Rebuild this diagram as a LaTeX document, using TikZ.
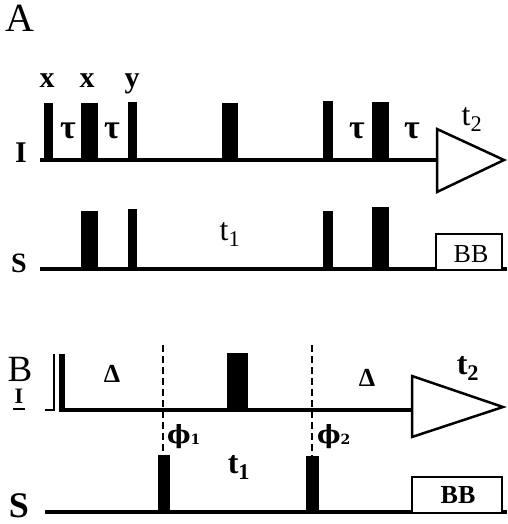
\documentclass[tikz,border=0pt]{standalone}
\usepackage{fontspec}
\setmainfont{Liberation Serif}
\newfontfamily\phifont{DejaVu Serif}
\begin{document}
\begin{tikzpicture}[x=1pt,y=-1pt,
  axis/.style={line width=4pt},
  pulse/.style={fill=black},
  outl/.style={line width=2.5pt,fill=white,line join=miter},
  dsh/.style={line width=1.5pt,dash pattern=on 7pt off 4pt},
  lbl/.style={inner sep=0pt,anchor=base}]
\useasboundingbox (0,0) rectangle (507,524);
% ---------------- Panel A ----------------
\node[lbl] (pa) at (20,32) {\fontsize{40}{42}\selectfont A};
% I channel
\node[lbl] (ia) at (21,162) {\fontsize{30}{32}\selectfont\bfseries I};
\draw[axis] (40,160) -- (437,160);
\fill[pulse] (44,103) rectangle (53,160);
\fill[pulse] (81,103) rectangle (98,160);
\fill[pulse] (128,102) rectangle (137,160);
\fill[pulse] (222,103) rectangle (238,160);
\fill[pulse] (323,101) rectangle (333,160);
\fill[pulse] (372,102) rectangle (389,160);
\draw[outl] (437,129) -- (504,160) -- (437,192) -- cycle;
\node[lbl] (xa1) at (47,88) {\fontsize{30}{32}\selectfont\bfseries x};
\node[lbl] (xa2) at (87,88) {\fontsize{30}{32}\selectfont\bfseries x};
\node[lbl] (ya) at (132,88) {\fontsize{30}{32}\selectfont\bfseries y};
\node[lbl] (ta1) at (68,138) {\fontsize{34}{36}\selectfont\bfseries τ};
\node[lbl] (ta2) at (112,138) {\fontsize{34}{36}\selectfont\bfseries τ};
\node[lbl] (ta3) at (357,138) {\fontsize{34}{36}\selectfont\bfseries τ};
\node[lbl] (ta4) at (412,138) {\fontsize{34}{36}\selectfont\bfseries τ};
\node[lbl] (t2a) at (472,125) {\fontsize{32}{34}\selectfont t$_{\mathrm{2}}$};
% S channel
\node[lbl] (sa) at (19,272) {\fontsize{28}{30}\selectfont\bfseries S};
\draw[axis] (40,269) -- (507,269);
\fill[pulse] (81,211) rectangle (98,269);
\fill[pulse] (128,209) rectangle (137,269);
\fill[pulse] (323,211) rectangle (333,269);
\fill[pulse] (372,207) rectangle (389,269);
\draw[outl] (436,269) -- (436,234) -- (502,234) -- (502,269);
\node[lbl] (bba) at (471,262) {\fontsize{26}{28}\selectfont BB};
\node[lbl] (t1a) at (230,240) {\fontsize{32}{34}\selectfont t$_{\mathrm{1}}$};
% ---------------- Panel B ----------------
\node[lbl] (pb) at (20,381) {\fontsize{37}{39}\selectfont B};
\node[lbl] (ib) at (19,403) {\fontsize{22}{24}\selectfont\bfseries I};
\draw[line width=2pt] (13,408.5) -- (25,408.5);
\draw[line width=1.6pt] (45,410) -- (54,410) -- (54,354);
\fill[pulse] (59,354) rectangle (65,412);
\draw[axis] (59,410) -- (412,410);
\fill[pulse] (227,353) rectangle (248,410);
\draw[outl] (412,376) -- (503,407) -- (412,437) -- cycle;
\node[lbl] (d1) at (112,382) {\fontsize{26}{28}\selectfont\bfseries Δ};
\node[lbl] (d2) at (367,386) {\fontsize{26}{28}\selectfont\bfseries Δ};
\node[lbl] (t2b) at (468,374) {\fontsize{32}{34}\selectfont\bfseries t$_{\mathbf{2}}$};
% S channel
\node[lbl] (sb) at (19,517) {\fontsize{36}{38}\selectfont\bfseries S};
\draw[axis] (45,512) -- (507,512);
\fill[pulse] (158,455) rectangle (170,512);
\fill[pulse] (306,456) rectangle (319,512);
\draw[outl] (412,512) -- (412,477) -- (502,477) -- (502,512);
\node[lbl] (bbb) at (458,503) {\fontsize{26}{28}\selectfont\bfseries BB};
\node[lbl] (t1b) at (239,473) {\fontsize{32}{34}\selectfont\bfseries t$_{\mathbf{1}}$};
\coordinate (p1top) at (163,345);
\coordinate (p1bot) at (163,455);
\coordinate (p2top) at (312,345);
\coordinate (p2bot) at (312,456);
\draw[dsh] (p1top) -- (p1bot);
\draw[dsh] (p2top) -- (p2bot);
\node[lbl,anchor=base west] (f1) at (167,443) {\fontsize{25}{27}\selectfont\phifont\bfseries ϕ\raisebox{-0.15ex}{\fontsize{14}{16}\selectfont 1}};
\node[lbl,anchor=base west] (f2) at (317,443) {\fontsize{25}{27}\selectfont\phifont\bfseries ϕ\raisebox{-0.15ex}{\fontsize{14}{16}\selectfont 2}};
\end{tikzpicture}
\end{document}
